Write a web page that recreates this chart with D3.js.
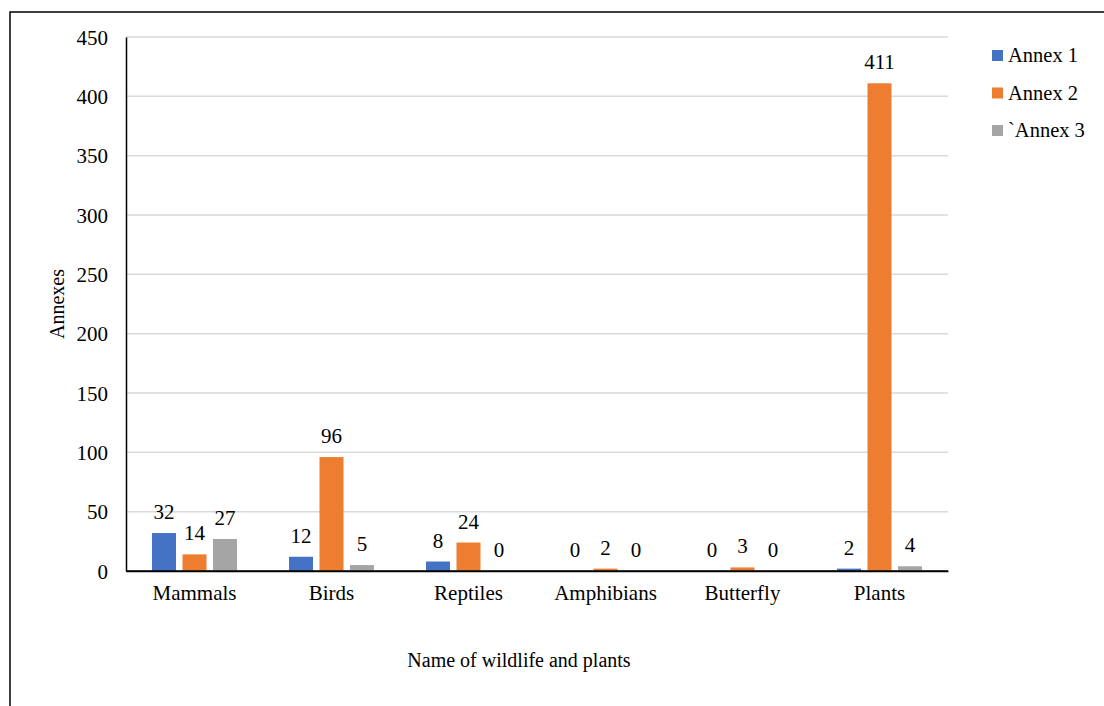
<!DOCTYPE html>
<html>
<head>
<meta charset="utf-8">
<script src="https://cdn.jsdelivr.net/npm/d3@7"></script>
<style>
  html, body { margin: 0; padding: 0; background: #fff; }
  svg { display: block; }
</style>
</head>
<body>
<svg id="chart" width="1104" height="706"></svg>
<script>
// Number of species listed in each annex, by group
const categories = ["Mammals", "Birds", "Reptiles", "Amphibians", "Butterfly", "Plants"];
const seriesNames = ["Annex 1", "Annex 2", "`Annex 3"];
const annex1 = [32, 12, 8, 0, 0, 2];
const annex2 = [14, 96, 24, 2, 3, 411];
const annex3 = [27, 5, 0, 0, 0, 4];
const yTicks = [0, 50, 100, 150, 200, 250, 300, 350, 400, 450];
const colors = ["#4472C4", "#ED7D31", "#A5A5A5"];

const series = [annex1, annex2, annex3];
const FONT = "'Liberation Serif', 'Times New Roman', serif";
const FS = 21;

const svg = d3.select("#chart").style("font-family", FONT);

// outer frame (left and top edges)
svg.append("path")
  .attr("d", "M10,706 L10,12 L1104,12")
  .attr("fill", "none").attr("stroke", "#000").attr("stroke-width", 1.5);

const plot = { left: 126, right: 948, top: 37, bottom: 571 };

const x = d3.scaleBand().domain(categories).range([plot.left, plot.right]).padding(0);
const y = d3.scaleLinear().domain([0, 450]).range([plot.bottom, plot.top]);
const barW = 24, step = 30.5;

// gridlines
svg.append("g").selectAll("line").data(yTicks.filter(d => d > 0)).join("line")
  .attr("x1", plot.left).attr("x2", plot.right)
  .attr("y1", d => y(d)).attr("y2", d => y(d))
  .attr("stroke", "#d9d9d9").attr("stroke-width", 1.5);

// y axis
const yAxis = svg.append("g").attr("transform", `translate(${plot.left},0)`)
  .call(d3.axisLeft(y).tickValues(yTicks).tickSize(0).tickPadding(18))
  .attr("font-family", null).attr("font-size", null);
yAxis.select(".domain").attr("stroke", "#000").attr("stroke-width", 1.5);
yAxis.selectAll("text")
  .style("font-family", FONT).style("font-size", FS + "px")
  .attr("fill", "#000").attr("dy", "0.34em");

// x axis
const xAxis = svg.append("g").attr("transform", `translate(0,${plot.bottom})`)
  .call(d3.axisBottom(x).tickSize(0).tickPadding(14))
  .attr("font-family", null).attr("font-size", null);
xAxis.select(".domain").attr("stroke", "#000").attr("stroke-width", 1.5);
xAxis.selectAll("text")
  .style("font-family", FONT).style("font-size", FS + "px")
  .attr("fill", "#000");

// bars and value labels
series.forEach((vals, si) => {
  const g = svg.append("g");
  const cx = (c) => x(c) + x.bandwidth() / 2 + (si - 1) * step;
  g.selectAll("rect").data(categories).join("rect")
    .attr("x", c => cx(c) - barW / 2)
    .attr("width", barW)
    .attr("y", (c, i) => y(vals[i]))
    .attr("height", (c, i) => y(0) - y(vals[i]))
    .attr("fill", colors[si]);
  g.selectAll("text").data(categories).join("text")
    .attr("x", cx)
    .attr("y", (c, i) => y(vals[i]) - 14)
    .attr("text-anchor", "middle")
    .style("font-family", FONT).style("font-size", FS + "px")
    .text((c, i) => vals[i]);
});

// axis baseline drawn above the bars
svg.append("line").attr("x1", plot.left).attr("x2", plot.right)
  .attr("y1", plot.bottom).attr("y2", plot.bottom)
  .attr("stroke", "#000").attr("stroke-width", 1.5);

// axis titles
svg.append("text")
  .attr("transform", `translate(64,${(plot.top + plot.bottom) / 2}) rotate(-90)`)
  .attr("text-anchor", "middle")
  .style("font-family", FONT).style("font-size", (FS - 1) + "px")
  .text("Annexes");
svg.append("text")
  .attr("x", 519).attr("y", 667)
  .attr("text-anchor", "middle")
  .style("font-family", FONT).style("font-size", (FS - 1) + "px")
  .text("Name of wildlife and plants");

// legend
const legend = svg.append("g").attr("transform", "translate(992,50)");
seriesNames.forEach((name, i) => {
  const row = legend.append("g").attr("transform", `translate(0,${i * 37.5})`);
  row.append("rect").attr("width", 11).attr("height", 11).attr("fill", colors[i]);
  row.append("text").attr("x", 16).attr("y", 12)
    .style("font-family", FONT).style("font-size", (FS - 0.5) + "px")
    .text(name);
});
</script>
</body>
</html>
